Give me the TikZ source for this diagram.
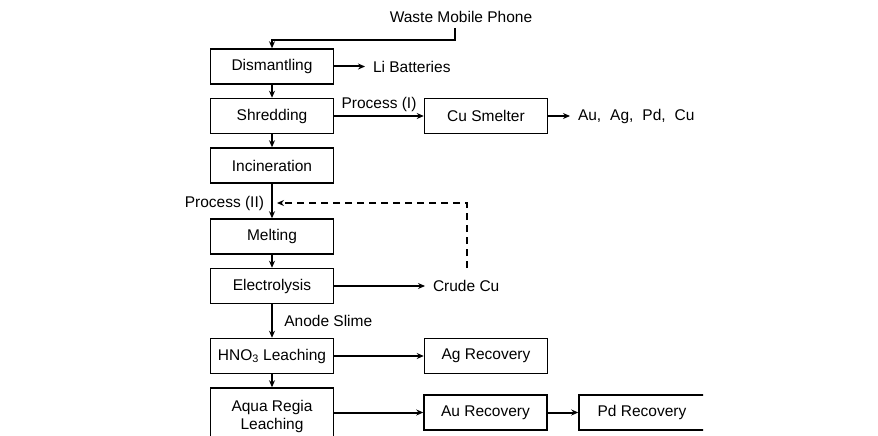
\documentclass[tikz,border=0pt]{standalone}
\usepackage{fontspec}
\setmainfont{Liberation Sans}
\usetikzlibrary{arrows.meta}
\begin{document}
\begin{tikzpicture}[x=1pt,y=-1pt,>={Stealth[length=7pt,width=6pt]},line width=2pt,
		font=\fontsize{15.5}{18}\selectfont,
		stage/.style={draw,line width=1.5pt,minimum width=123pt,minimum height=35pt,inner sep=0pt,align=center},
		lbl/.style={inner xsep=7pt,inner ysep=2pt}]
	\useasboundingbox (0,0) rectangle (878,436);
	\begin{scope}
		\clip (0,0) rectangle (703,436);
		% left column
		\node[inner sep=0pt] (waste) at (461,17) {Waste Mobile Phone};
		\node[stage] (dis) at (272,66.5) {Dismantling};
		\node[stage] (shr) at (272,116) {Shredding};
		\node[stage] (inc) at (272,165.5) {Incineration};
		\node[stage] (mel) at (272,236.5) {Melting};
		\node[stage] (ele) at (272,286) {Electrolysis};
		\node[stage] (hno) at (272,356) {HNO\textsubscript{3} Leaching};
		\node[stage,minimum height=56pt,inner ysep=2pt] (aqua) at (272,416) {Aqua Regia\\Leaching};
		% products
		\node[lbl,anchor=west] (li) at (365,66.5) {Li Batteries};
		\node[stage] (cus) at (486,116) {Cu Smelter};
		\node[lbl,anchor=west] (metals) at (570,116) {Au,\hspace{0.3em} Ag,\hspace{0.3em} Pd,\hspace{0.3em} Cu};
		\node[lbl,anchor=west] (crude) at (425,286) {Crude Cu};
		\node[stage] (ag) at (486,356) {Ag Recovery};
		\node[stage] (au) at (485.5,412.5) {Au Recovery};
		\node[stage,minimum width=126pt] (pd) at (642,412.5) {Pd Recovery};
		\node[anchor=east,inner sep=0pt] (p2) at (265,203) {Process (II)};
		\coordinate (src) at (455,28);
		\coordinate (ret) at (467,268);
		\coordinate (tip) at (277,203);
		% connectors
		\draw[->] (src) -- ++(0,12) -| (dis.north);
		\draw[->] (dis) -- (shr);
		\draw[->] (shr) -- (inc);
		\draw[->] (inc) -- (mel);
		\draw[->] (mel) -- (ele);
		\draw[->] (ele) -- node[right=8pt]{Anode Slime} (hno);
		\draw[->] (hno) -- (aqua);
		\draw[->] (dis.east) -- (li.west);
		\draw[->] (shr) -- node[above]{Process (I)} (cus);
		\draw[->] (cus.east) -- (metals.west);
		\draw[->] (ele.east) -- (crude.west);
		\draw[->] (hno) -- (ag);
		\draw[->] (aqua.east |- au.west) -- (au.west);
		\draw[->] (au) -- (pd);
		\draw[->,dash pattern=on 7pt off 5pt] (ret) |- (tip);
	\end{scope}
\end{tikzpicture}
\end{document}
